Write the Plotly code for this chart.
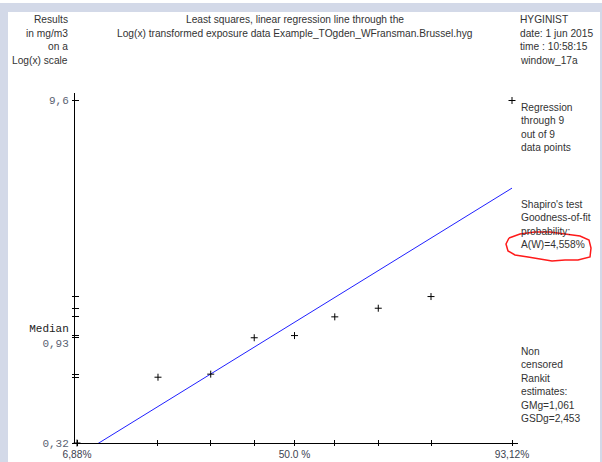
import math
import plotly.graph_objects as go

# ---- data ----
rankit_z = [-1.485, -0.932, -0.572, -0.275, 0.0, 0.275, 0.572, 0.932, 1.485]
results_mg_m3 = [0.32, 0.615, 0.634, 0.91, 0.93, 1.12, 1.22, 1.37, 9.6]
x_tick_text = ["6,88%", "", "", "", "50.0 %", "", "", "", "93,12%"]
y_tick_text = ["0,32", "", "", "", "<span style='color:#222222'>Median</span><br>0,93", "", "", "", "9,6"]
gm = 1.061
gsd = 2.453

title_lines = ["Least squares, linear regression line through the",
               "Log(x) transformed exposure data Example_TOgden_WFransman.Brussel.hyg"]
left_lines = ["Results", "in mg/m3", "on a", "Log(x) scale"]
right_top_lines = ["HYGINIST", "date: 1 jun 2015", "time : 10:58:15", "window_17a"]
regression_lines = ["Regression", "through 9", "out of 9", "data points"]
shapiro_lines = ["Shapiro's test", "Goodness-of-fit", "probability:", "A(W)=4,558%"]
rankit_lines = ["Non", "censored", "Rankit", "estimates:", "GMg=1,061", "GSDg=2,453"]

# ---- layout geometry (pixels) ----
W, H = 602, 462
L, R, T, B = 75, 518, 93, 443
ml, mr, mt, mb = L, W - R, T, H - B
pw, ph = R - L, B - T

def px(x):
    return (x - L) / pw

def py(y):
    return (B - y) / ph

# x: probit (z) scale
zmin, zmax = min(rankit_z), max(rankit_z)
ppu_x = (512 - 77) / (zmax - zmin)
xr = [zmin - (77 - L) / ppu_x, zmax + (R - 512) / ppu_x]
# y: log scale
lymin, lymax = math.log10(min(results_mg_m3)), math.log10(max(results_mg_m3))
ppu_y = (B - 100.5) / (lymax - lymin)
yr = [lymin, lymax + (100.5 - T) / ppu_y]

fig = go.Figure()

# regression line
z_line = [zmin, zmax]
y_line = [gm * gsd ** z for z in z_line]
fig.add_trace(go.Scatter(x=z_line, y=y_line, mode="lines",
                         line=dict(color="#2020ff", width=1),
                         hoverinfo="skip", showlegend=False))
# data points
fig.add_trace(go.Scatter(x=rankit_z, y=results_mg_m3, mode="markers",
                         marker=dict(symbol="cross-thin", size=5,
                                     line=dict(color="black", width=1)),
                         cliponaxis=False, showlegend=False))
# dummy trace for the overlay axes
fig.add_trace(go.Scatter(x=[rankit_z[4]], y=[results_mg_m3[4]], xaxis="x2", yaxis="y2",
                         mode="markers", marker=dict(opacity=0),
                         hoverinfo="skip", showlegend=False))

SANS = "Liberation Sans, Arial, sans-serif"
txt_font = dict(family=SANS, size=10.2, color="#333333")
annotations = []

def add_lines(lines, x, y0, step, xanchor, align):
    for i, t in enumerate(lines):
        annotations.append(dict(text=t, x=px(x), y=py(y0 + i * step), xref="paper", yref="paper",
                                xanchor=xanchor, yanchor="middle", showarrow=False,
                                align=align, font=txt_font))

add_lines(left_lines, 70, 20, 13.4, "right", "right")
add_lines(title_lines, 294.5, 20, 13.4, "center", "center")
add_lines(right_top_lines, 518, 20, 13.4, "left", "left")
add_lines(regression_lines, 519, 107, 13.5, "left", "left")
add_lines(shapiro_lines, 519, 204, 13.6, "left", "left")
add_lines(rankit_lines, 519, 351, 13.5, "left", "left")

# frame of the window and red hand-drawn mark
shapes = []
frame_col = "#d3d9e8"
shapes.append(dict(type="rect", xref="paper", yref="paper", x0=px(0), x1=px(W), y0=py(3), y1=py(12),
                   fillcolor=frame_col, line=dict(width=0), layer="below"))
shapes.append(dict(type="rect", xref="paper", yref="paper", x0=px(0), x1=px(8), y0=py(3), y1=py(H),
                   fillcolor=frame_col, line=dict(width=0), layer="below"))
shapes.append(dict(type="rect", xref="paper", yref="paper", x0=px(600), x1=px(602), y0=py(3), y1=py(H),
                   fillcolor=frame_col, line=dict(width=0), layer="below"))
red_pts = [(509, 238), (520, 234), (535, 232), (550, 232), (565, 234), (580, 236), (589, 240),
           (591, 248), (590, 257), (578, 260), (565, 260), (552, 261), (540, 259), (528, 257),
           (515, 255), (508, 251), (506, 244), (509, 238)]
path = "M " + " L ".join(f"{px(a):.5f},{py(b):.5f}" for a, b in red_pts)
shapes.append(dict(type="path", xref="paper", yref="paper", path=path,
                   line=dict(color="#ff1a1a", width=1.5)))

fig.update_layout(
    template="none",
    width=W, height=H,
    margin=dict(l=ml, r=mr, t=mt, b=mb, pad=0, autoexpand=False),
    paper_bgcolor="white", plot_bgcolor="white",
    showlegend=False,
    xaxis=dict(range=xr, tickmode="array", tickvals=rankit_z, ticktext=x_tick_text,
               ticks="inside", ticklen=3, tickcolor="black", tickwidth=1,
               showline=True, linecolor="black", linewidth=1, automargin=False,
               showgrid=False, zeroline=False, fixedrange=True, ticklabelstandoff=2,
               tickfont=dict(family=SANS, size=10.2, color="#3c4250")),
    xaxis2=dict(range=xr, overlaying="x", anchor="y", side="bottom", automargin=False,
                tickmode="array", tickvals=rankit_z, showticklabels=False,
                ticks="outside", ticklen=2, tickcolor="black", tickwidth=1,
                showline=False, showgrid=False, zeroline=False),
    yaxis=dict(type="log", range=yr, tickmode="array", tickvals=results_mg_m3, ticktext=y_tick_text,
               ticks="inside", ticklen=4, tickcolor="black", tickwidth=1,
               showline=True, linecolor="black", linewidth=1, automargin=False,
               showgrid=False, zeroline=False, fixedrange=True,
               ticklabelstandoff=3,
               tickfont=dict(family="Liberation Mono, DejaVu Sans Mono, monospace", size=11, color="#5a6272")),
    yaxis2=dict(type="log", range=yr, overlaying="y", anchor="x", side="left", automargin=False,
                tickmode="array", tickvals=results_mg_m3, showticklabels=False,
                ticks="outside", ticklen=2, tickcolor="black", tickwidth=1,
                showline=False, showgrid=False, zeroline=False),
    annotations=annotations,
    shapes=shapes,
)

fig.write_html("out.html")
